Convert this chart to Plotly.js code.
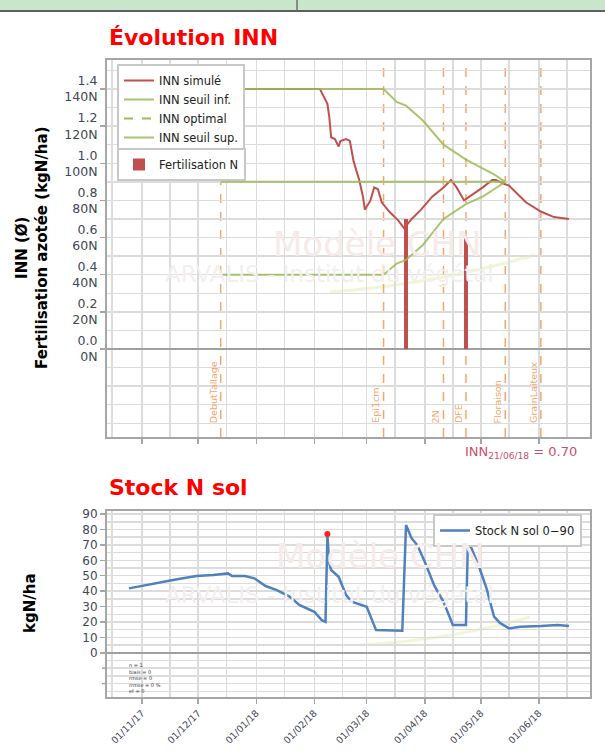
<!DOCTYPE html>
<html><head><meta charset="utf-8">
<script src="https://cdn.plot.ly/plotly-3.0.1.min.js"></script>
<style>html,body{margin:0;padding:0;background:#fff}#chart{width:605px;height:751px}</style>
</head><body><div id="chart"></div>
<script>
// ---------- DATA ----------
const innDates = ['2017-12-13','2018-02-04','2018-02-06','2018-02-08','2018-02-09','2018-02-10','2018-02-12','2018-02-14','2018-02-15','2018-02-18','2018-02-20','2018-02-22','2018-02-25','2018-02-27','2018-02-28','2018-03-03','2018-03-05','2018-03-07','2018-03-09','2018-03-13','2018-03-18','2018-03-21','2018-03-25','2018-03-30','2018-04-05','2018-04-11','2018-04-15','2018-04-18','2018-04-22','2018-04-25','2018-04-29','2018-05-02','2018-05-07','2018-05-09','2018-05-13','2018-05-16','2018-05-20','2018-05-25','2018-06-02','2018-06-09','2018-06-17'];
const innSimule = [1.40,1.40,1.36,1.32,1.25,1.14,1.13,1.09,1.12,1.13,1.12,1.01,0.91,0.82,0.75,0.80,0.87,0.86,0.79,0.74,0.69,0.65,0.70,0.75,0.82,0.87,0.91,0.87,0.80,0.82,0.85,0.87,0.91,0.91,0.89,0.88,0.84,0.79,0.74,0.71,0.70];
const seuilDates = ['2017-12-13','2018-03-10','2018-03-17','2018-03-22','2018-03-31','2018-04-11','2018-04-23','2018-05-02','2018-05-08','2018-05-14'];
const seuilSup = [1.40,1.40,1.33,1.31,1.23,1.10,1.02,0.97,0.94,0.90];
const seuilInf = [0.40,0.40,0.46,0.48,0.56,0.70,0.78,0.82,0.86,0.90];
const optimalDates = ['2017-12-13','2018-05-14'];
const optimalValues = [0.90,0.90];
const fertDates = ['2018-03-22','2018-04-23'];
const fertN = [70,60];
const stadeDates = ['2017-12-13','2018-03-10','2018-04-11','2018-04-23','2018-05-14','2018-06-02'];
const stadeLabels = ['DebutTallage','Epi1cm','2N','DFE','Floraison','GrainLaiteux'];
const innFinalDate = '21/06/18';
const innFinalValue = '0.70';

const stockDates = ['2017-10-25','2017-11-07','2017-11-19','2017-11-30','2017-12-09','2017-12-17','2017-12-19','2017-12-26','2017-12-31','2018-01-06','2018-01-12','2018-01-19','2018-01-24','2018-02-01','2018-02-05','2018-02-07','2018-02-08','2018-02-09','2018-02-10','2018-02-14','2018-02-18','2018-02-21','2018-02-26','2018-03-01','2018-03-06','2018-03-20','2018-03-22','2018-03-25','2018-03-28','2018-04-01','2018-04-06','2018-04-11','2018-04-16','2018-04-23','2018-04-24','2018-04-26','2018-04-30','2018-05-04','2018-05-08','2018-05-11','2018-05-16','2018-05-22','2018-06-02','2018-06-11','2018-06-17'];
const stockN = [41.8,45,47.6,49.8,50.4,51.5,49.8,49.8,48.3,43.3,40.7,36.3,31,26.6,21.2,20.1,76.4,58,53.7,49.3,37.4,33.1,31,29.9,14.7,14.3,82.9,74.2,69.9,59,43.9,33.1,18,18,71,67.7,55.8,41.8,23.4,19.5,15.8,16.9,17.3,18,17.3];
const mesureDates = ['2018-02-08'];
const mesureN = [77];

const innTicks = [0,0.2,0.4,0.6,0.8,1.0,1.2,1.4];
const innTickLabels = ['0.0','0.2','0.4','0.6','0.8','1.0','1.2','1.4'];
const nTickLabels = ['0N','20N','40N','60N','80N','100N','120N','140N'];
const stockTicks = [0,10,20,30,40,50,60,70,80,90];
const stockTickLabels = ['0','10','20','30','40','50','60','70','80','90'];
const stockNegTicks = [-20,-10];
const monthTicks = ['2017-11-01','2017-12-01','2018-01-01','2018-02-01','2018-03-01','2018-04-01','2018-05-01','2018-06-01'];
const monthLabels = ['01/11/17','01/12/17','01/01/18','01/02/18','01/03/18','01/04/18','01/05/18','01/06/18'];
const midMonthGrid = ['2017-10-16','2017-11-16','2017-12-16','2018-01-16','2018-02-16','2018-03-16','2018-04-16','2018-05-16','2018-06-16'];
const statsLines = ['n = 1','biais = 0','rmse = 0','rrmse = 0 %','ef = 0'];

// ---------- STYLE ----------
const FONT = 'DejaVu Sans';
const RED = '#C0504D', GREEN = '#9BBB59', ORANGE = '#F6A66A', BLUE = '#4F81BD';
const GRID = '#DCDCDC', AXIS = '#A6A6A6', TICKC = '#3F4756';
const xRange = ['2017-10-13 07:00','2018-06-28 06:00'];
// pixel helpers (plot area: left 107, right 590, top 60, bottom 697)
const PX = p => (p - 107) / 483;
const PY = p => (697 - p) / 637;

const traces = [
  {type:'bar', x:fertDates, y:fertN.map(v=>v/100), width:1.9*86400000, marker:{color:RED},
   name:'Fertilisation N', legend:'legend2', xaxis:'x', yaxis:'y'},
  {type:'scatter', mode:'lines', x:innDates, y:innSimule, line:{color:RED, width:2},
   name:'INN simulé', legendrank:1, xaxis:'x', yaxis:'y'},
  {type:'scatter', mode:'lines', x:seuilDates, y:seuilInf, line:{color:GREEN, width:2}, opacity:0.85,
   name:'INN seuil inf.', legendrank:2, xaxis:'x', yaxis:'y'},
  {type:'scatter', mode:'lines', x:[null], y:[null], line:{color:GREEN, width:2, dash:'dash'},
   name:'INN optimal', legendrank:3, xaxis:'x', yaxis:'y'},
  {type:'scatter', mode:'lines', x:seuilDates, y:seuilSup, line:{color:GREEN, width:2}, opacity:0.85,
   name:'INN seuil sup.', legendrank:4, xaxis:'x', yaxis:'y'},
  {type:'scatter', mode:'lines', x:optimalDates, y:optimalValues, line:{color:GREEN, width:2}, opacity:0.85,
   showlegend:false, xaxis:'x', yaxis:'y'},
  {type:'scatter', mode:'lines', x:stockDates, y:stockN, line:{color:BLUE, width:2.5},
   name:'Stock N sol 0\u221290', legend:'legend3', xaxis:'x2', yaxis:'y2'},
  {type:'scatter', mode:'markers', x:mesureDates, y:mesureN, marker:{color:'#FF2020', size:6},
   showlegend:false, xaxis:'x2', yaxis:'y2'}
];

const shapes = [
  {type:'rect', xref:'paper', yref:'paper', x0:PX(0), x1:PX(605), y0:PY(0), y1:PY(10), fillcolor:'#C8E6C9', line:{width:0}},
  {type:'rect', xref:'paper', yref:'paper', x0:PX(0), x1:PX(605), y0:PY(10), y1:PY(12), fillcolor:'#5E5E5E', line:{width:0}},
  {type:'line', xref:'paper', yref:'paper', x0:PX(297), x1:PX(297), y0:PY(0), y1:PY(11), line:{color:'#6E6E6E', width:1.5}},
  {type:'path', xref:'paper', yref:'paper', layer:'below',
   path:`M ${PX(330)} ${PY(292)} Q ${PX(430)} ${PY(285)} ${PX(535)} ${PY(255)}`, line:{color:'rgba(228,238,180,0.55)', width:3}},
  {type:'path', xref:'paper', yref:'paper', layer:'below',
   path:`M ${PX(360)} ${PY(645)} Q ${PX(450)} ${PY(640)} ${PX(530)} ${PY(617)}`, line:{color:'rgba(228,238,180,0.55)', width:3}}
];
stadeDates.forEach(d => shapes.push({type:'line', xref:'x', yref:'paper', x0:d, x1:d, y0:PY(437), y1:1,
  layer:'below', line:{color:ORANGE, width:1.5, dash:'dash'}}));
// tick marks below zero in the stock chart (unlabelled)
stockNegTicks.forEach(v => shapes.push({type:'line', xref:'paper', yref:'y2', x0:-0.0104, x1:0, y0:v, y1:v,
  line:{color:AXIS, width:1.5}}));

const annotations = [
  {xref:'paper', yref:'paper', x:0, y:PY(37), xanchor:'left', yanchor:'middle', showarrow:false,
   text:'Évolution INN', font:{family:FONT, size:22, color:'#FF0000', weight:'bold'}},
  {xref:'paper', yref:'paper', x:0, y:PY(487), xanchor:'left', yanchor:'middle', showarrow:false,
   text:'Stock N sol', font:{family:FONT, size:22, color:'#FF0000', weight:'bold'}},
  {xref:'paper', yref:'paper', x:PX(32), y:PY(248), xanchor:'center', yanchor:'middle', showarrow:false, textangle:-90,
   text:'INN (Ø)<br>Fertilisation azotée (kgN/ha)', font:{family:FONT, size:15, color:'#000', weight:'bold'}},
  {xref:'paper', yref:'paper', x:PX(30), y:PY(603), xanchor:'center', yanchor:'middle', showarrow:false, textangle:-90,
   text:'kgN/ha', font:{family:FONT, size:15, color:'#000', weight:'bold'}},
  {xref:'paper', yref:'paper', x:PX(579), y:PY(452), xanchor:'right', yanchor:'middle', showarrow:false,
   text:'INN<sub>'+innFinalDate+'</sub> = '+innFinalValue, font:{family:FONT, size:13, color:'#C8506E'}},
  {xref:'paper', yref:'paper', x:PX(127), y:PY(660), xanchor:'left', yanchor:'top', align:'left', showarrow:false,
   text:statsLines.join('<br>'), font:{family:FONT, size:5, color:'#333'}},
  // watermarks
  {xref:'paper', yref:'paper', x:PX(377), y:PY(222), showarrow:false, text:'Modèle CHN', font:{family:FONT, size:34, color:'#F5EBE9'}},
  {xref:'paper', yref:'paper', x:PX(329), y:PY(259), showarrow:false, text:'ARVALIS - Institut du végétal', font:{family:FONT, size:23, color:'#F3EFEE'}},
  {xref:'paper', yref:'paper', x:PX(380), y:PY(578), showarrow:false, text:'Modèle CHN', font:{family:FONT, size:34, color:'#F5EBE9'}},
  {xref:'paper', yref:'paper', x:PX(329), y:PY(610), showarrow:false, text:'ARVALIS - Institut du végétal', font:{family:FONT, size:23, color:'#F3EFEE'}}
];
stadeDates.forEach((d,i) => annotations.push({xref:'x', yref:'y', x:d, y:-0.41, xanchor:'right', yanchor:'bottom',
  xshift:0, showarrow:false, textangle:-90, text:stadeLabels[i], font:{family:FONT, size:9.5, color:ORANGE}}));

const baseX = {type:'date', range:xRange, tickmode:'array', tickvals:monthTicks, ticks:'outside', ticklen:5,
  tickwidth:1.5, tickcolor:AXIS, showgrid:true, gridcolor:GRID, gridwidth:1.5,
  minor:{tickmode:'array', tickvals:midMonthGrid, showgrid:true, gridcolor:GRID, gridwidth:1.5, ticks:''},
  showline:true, linecolor:AXIS, linewidth:2, mirror:true, zeroline:false, fixedrange:true};

const layout = {
  width:605, height:751, margin:{l:107, r:15, t:60, b:54},
  paper_bgcolor:'#fff', plot_bgcolor:'rgba(0,0,0,0)', font:{family:FONT, color:TICKC},
  showlegend:true, bargap:0,
  xaxis: Object.assign({}, baseX, {domain:[0,1], anchor:'y', showticklabels:false}),
  yaxis: {domain:[PY(437),1], anchor:'x', range:[-0.474,1.556], tickmode:'array', tickvals:innTicks,
    ticktext:innTicks.map((v,i)=>innTickLabels[i]+'<br>'+nTickLabels[i]),
    tickfont:{family:FONT, size:12.5, color:TICKC}, ticks:'outside', ticklen:5, tickwidth:1.5, tickcolor:AXIS,
    showgrid:true, gridcolor:GRID, gridwidth:1.5, minor:{tick0:0, dtick:0.1, showgrid:true, gridcolor:GRID, gridwidth:1.5, ticks:''},
    zeroline:true, zerolinecolor:'#A0A0A0', zerolinewidth:2, showline:true, linecolor:AXIS, linewidth:2, mirror:true},
  xaxis2: Object.assign({}, baseX, {domain:[0,1], anchor:'y2', ticktext:monthLabels, tickangle:-45,
    tickfont:{family:FONT, size:9.5, color:TICKC}}),
  yaxis2: {domain:[0,PY(511)], anchor:'x2', range:[-28.7,92], tickmode:'array', tickvals:stockTicks, ticktext:stockTickLabels,
    tickfont:{family:FONT, size:12, color:TICKC}, ticks:'outside', ticklen:5, tickwidth:1.5, tickcolor:AXIS,
    showgrid:true, gridcolor:GRID, gridwidth:1.5, minor:{tick0:0, dtick:5, showgrid:true, gridcolor:GRID, gridwidth:1.5, ticks:''},
    zeroline:true, zerolinecolor:'#A0A0A0', zerolinewidth:2, showline:true, linecolor:AXIS, linewidth:2, mirror:true},
  legend: {x:PX(117), y:PY(64), xanchor:'left', yanchor:'top', bgcolor:'#fff', bordercolor:'#C8C8C8', borderwidth:2,
    font:{family:FONT, size:11.5, color:'#222'}, traceorder:'normal', itemwidth:30},
  legend2: {x:PX(117), y:PY(148), xanchor:'left', yanchor:'top', bgcolor:'#fff', bordercolor:'#C8C8C8', borderwidth:2,
    font:{family:FONT, size:11.5, color:'#222'}, itemwidth:30},
  legend3: {x:PX(433), y:PY(514), xanchor:'left', yanchor:'top', bgcolor:'#fff', bordercolor:'#C8C8C8', borderwidth:2,
    font:{family:FONT, size:11.5, color:'#222'}, itemwidth:30},
  shapes: shapes, annotations: annotations
};

Plotly.newPlot('chart', traces, layout, {displayModeBar:false, staticPlot:true});
</script></body></html>
